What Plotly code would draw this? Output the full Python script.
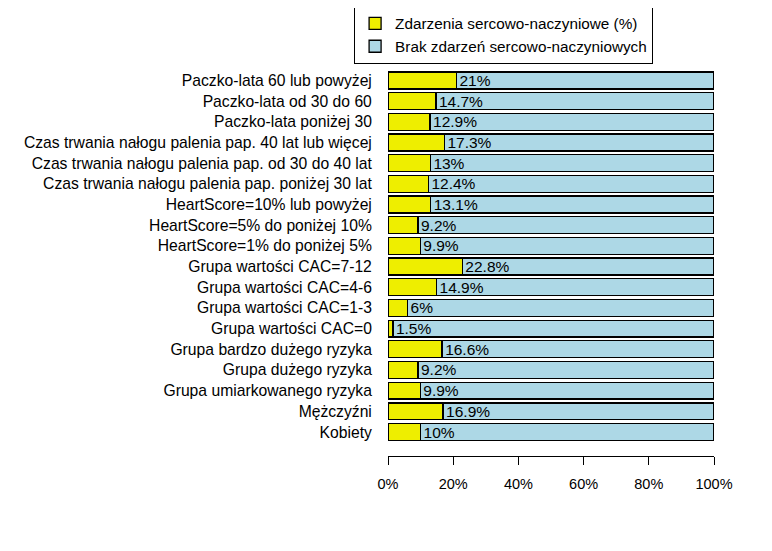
import plotly.graph_objects as go

categories = [
    "Paczko-lata 60 lub powyżej",
    "Paczko-lata od 30 do 60",
    "Paczko-lata poniżej 30",
    "Czas trwania nałogu palenia pap. 40 lat lub więcej",
    "Czas trwania nałogu palenia pap. od 30 do 40 lat",
    "Czas trwania nałogu palenia pap. poniżej 30 lat",
    "HeartScore=10% lub powyżej",
    "HeartScore=5% do poniżej 10%",
    "HeartScore=1% do poniżej 5%",
    "Grupa wartości CAC=7-12",
    "Grupa wartości CAC=4-6",
    "Grupa wartości CAC=1-3",
    "Grupa wartości CAC=0",
    "Grupa bardzo dużego ryzyka",
    "Grupa dużego ryzyka",
    "Grupa umiarkowanego ryzyka",
    "Mężczyźni",
    "Kobiety",
]
events_pct = [21, 14.7, 12.9, 17.3, 13, 12.4, 13.1, 9.2, 9.9, 22.8, 14.9, 6, 1.5, 16.6, 9.2, 9.9, 16.9, 10]
no_events_pct = [100 - v for v in events_pct]
labels = [f"{v:g}%" for v in events_pct]
tick_vals = [0, 20, 40, 60, 80, 100]
tick_text = ["0%", "20%", "40%", "60%", "80%", "100%"]

FONT = "Liberation Sans, Arial, sans-serif"

fig = go.Figure()
fig.add_trace(go.Bar(
    y=categories, x=events_pct, orientation="h",
    name="Zdarzenia sercowo-naczyniowe (%)",
    marker=dict(color="#EEEE00", line=dict(color="black", width=1.3)),
    hoverinfo="x+y",
))
fig.add_trace(go.Bar(
    y=categories, x=no_events_pct, orientation="h",
    name="Brak zdarzeń sercowo-naczyniowych",
    marker=dict(color="#ADD8E6", line=dict(color="black", width=1.3)),
    text=labels, textposition="inside", insidetextanchor="start",
    textangle=0, textfont=dict(color="black", size=15.5, family=FONT),
))

fig.update_layout(
    width=772, height=551,
    barmode="stack", bargap=0.18,
    paper_bgcolor="white", plot_bgcolor="white",
    font=dict(family=FONT, size=15.5, color="black"),
    margin=dict(l=380, r=66, t=62, b=103, autoexpand=False),
    uniformtext=dict(mode="show", minsize=15.5),
    showlegend=True,
    legend=dict(
        x=-0.104, y=1.166, xanchor="left", yanchor="top",
        bordercolor="black", borderwidth=1, bgcolor="white",
        font=dict(size=15.3, family=FONT), traceorder="normal",
        tracegroupgap=0, itemwidth=30,
    ),
    xaxis=dict(
        range=[0, 100], tickvals=tick_vals, ticktext=tick_text,
        showgrid=False, zeroline=False, showline=True, linecolor="black",
        linewidth=1, ticks="outside", ticklen=8, tickcolor="black",
        ticklabelstandoff=7,
        tickfont=dict(size=14.5), fixedrange=True,
    ),
    yaxis=dict(
        categoryorder="array", categoryarray=categories,
        range=[18.16, -0.51], showgrid=False, zeroline=False, showline=False,
        ticks="outside", ticklen=12, tickcolor="rgba(0,0,0,0)",
        tickfont=dict(size=15.7), fixedrange=True,
    ),
)

fig.write_html("out.html")
